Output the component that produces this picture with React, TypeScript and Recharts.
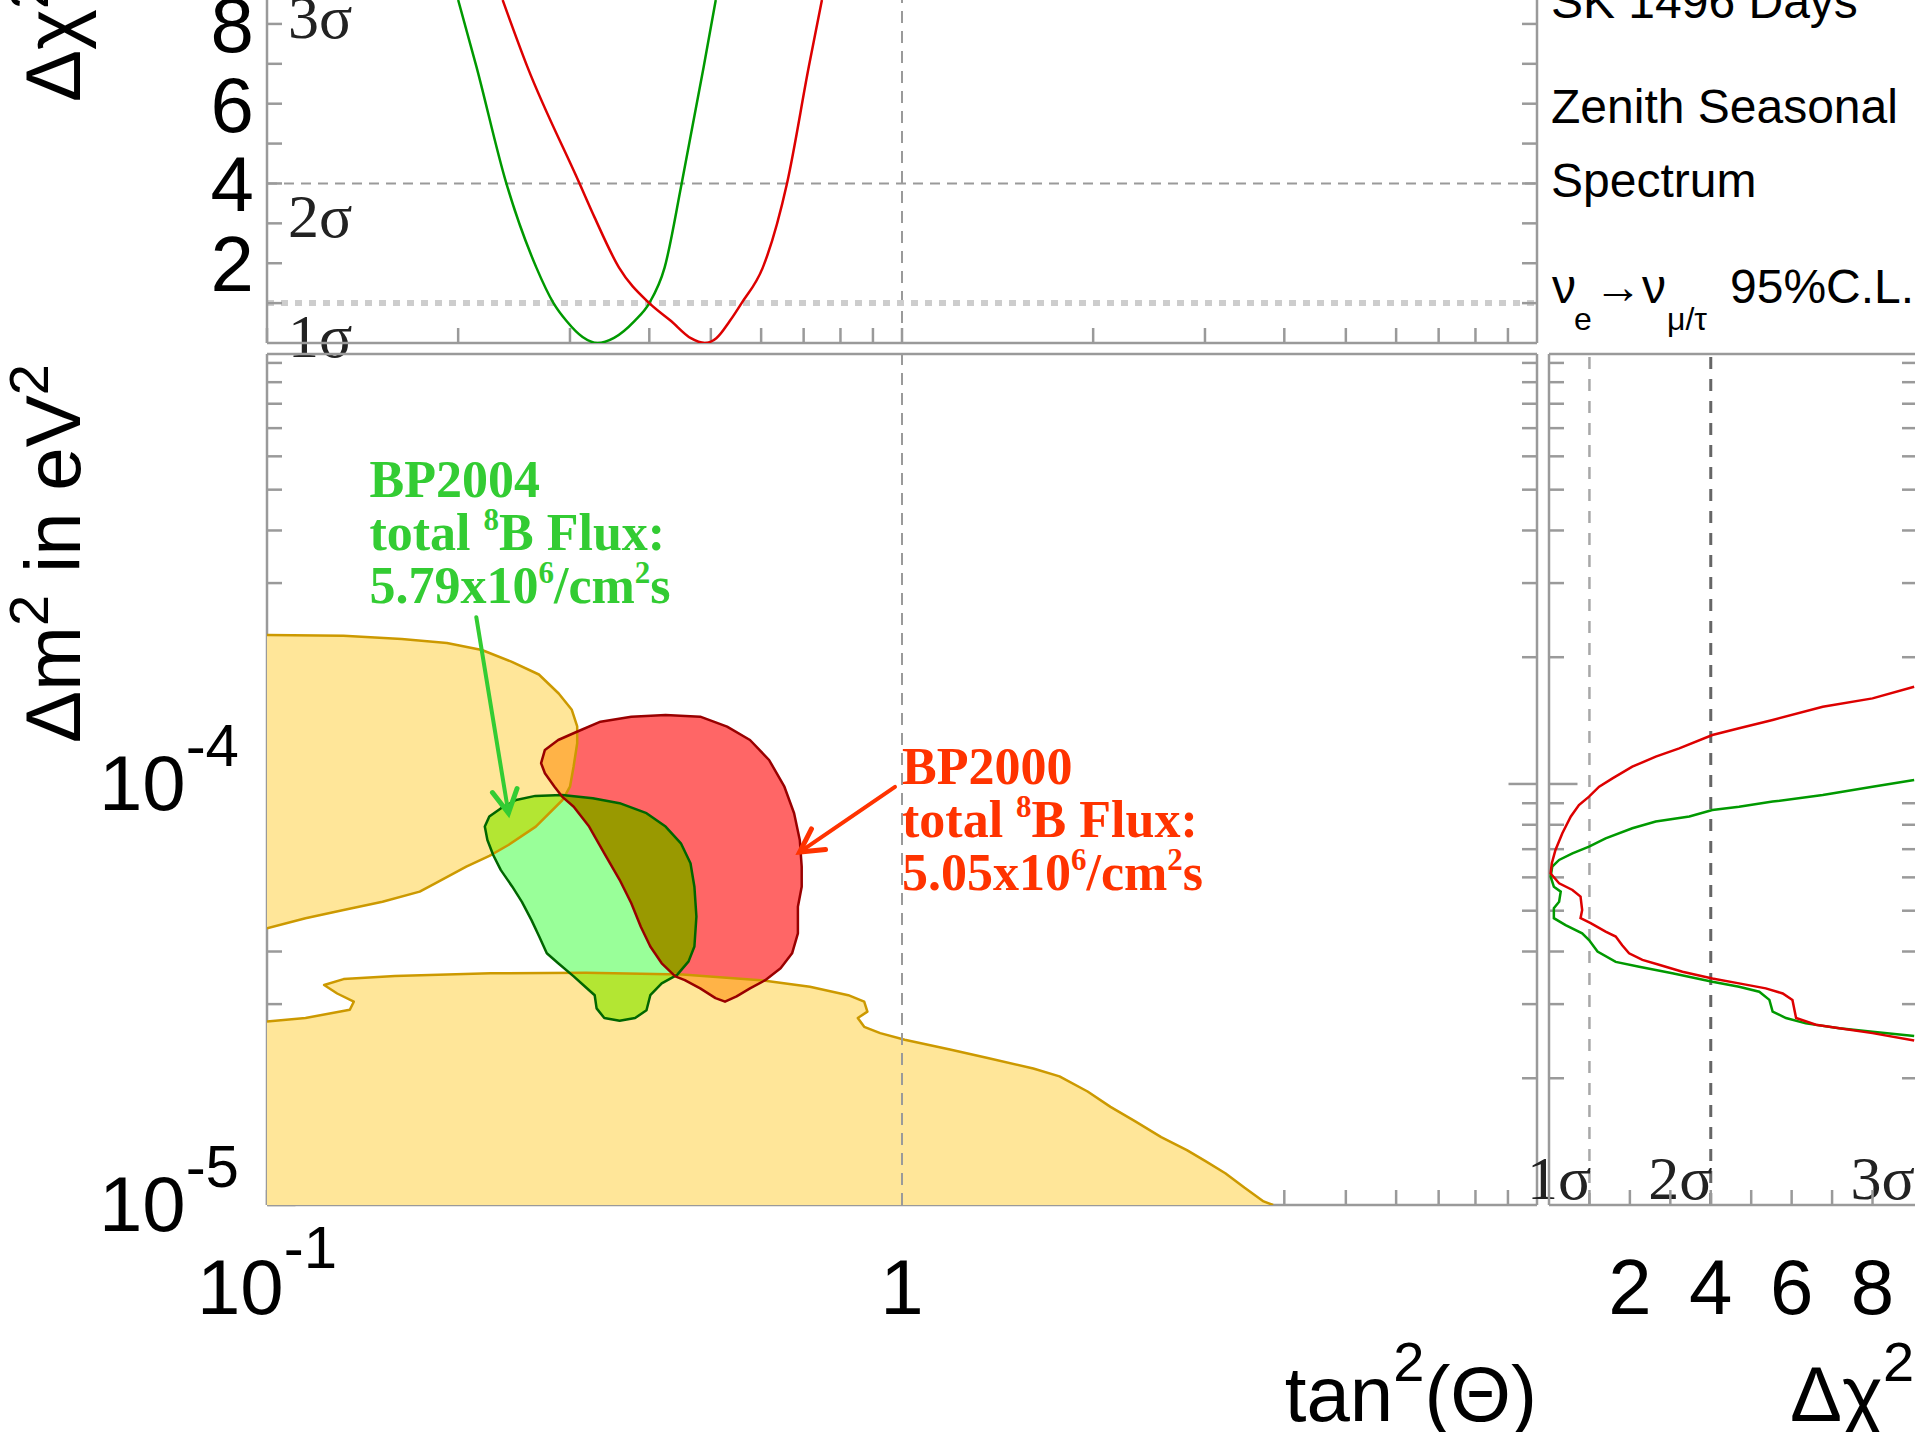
import React from 'react';
import { ComposedChart, Scatter, XAxis, YAxis, ReferenceLine } from 'recharts';

// ---------- values ----------
const tanTicks = [0.1, 0.2, 0.3, 0.4, 0.5, 0.6, 0.7, 0.8, 0.9, 1, 2, 3, 4, 5, 6, 7, 8, 9];
const tanLabelTicks = [0.1, 1];
const dm2Ticks = [2e-5, 3e-5, 4e-5, 5e-5, 6e-5, 7e-5, 8e-5, 9e-5, 2e-4, 3e-4, 4e-4, 5e-4, 6e-4, 7e-4, 8e-4, 9e-4, 1e-3];
const dm2MajorTicks = [1e-5, 1e-4];
const chiTicks = [1, 2, 3, 4, 5, 6, 7, 8];
const chiLabelValues = [2, 4, 6, 8];

// top panel: delta chi^2 vs tan^2(theta)
const bp2004Chi2 = [
  { x: 0.2, y: 8.6 }, { x: 0.2137, y: 6.93 }, { x: 0.2382, y: 4.0 }, { x: 0.2656, y: 1.89 },
  { x: 0.2826, y: 1.0 }, { x: 0.2963, y: 0.55 }, { x: 0.314, y: 0.15 }, { x: 0.3316, y: 0.0 },
  { x: 0.352, y: 0.13 }, { x: 0.379, y: 0.55 }, { x: 0.4, y: 1.0 }, { x: 0.4228, y: 1.89 },
  { x: 0.4498, y: 4.0 }, { x: 0.4873, y: 6.93 }, { x: 0.509, y: 8.6 },
];
const bp2000Chi2 = [
  { x: 0.235, y: 8.6 }, { x: 0.257, y: 6.93 }, { x: 0.3106, y: 4.0 }, { x: 0.328, y: 3.15 },
  { x: 0.3584, y: 1.89 }, { x: 0.4, y: 1.0 }, { x: 0.4329, y: 0.55 }, { x: 0.465, y: 0.12 },
  { x: 0.489, y: 0.0 }, { x: 0.51, y: 0.12 }, { x: 0.5355, y: 0.55 }, { x: 0.559, y: 1.0 },
  { x: 0.6036, y: 1.89 }, { x: 0.659, y: 4.0 }, { x: 0.7133, y: 6.93 }, { x: 0.748, y: 8.6 },
];

// main panel: excluded regions (yellow) and allowed regions
const excludedUpper = [
  { x: 0.1, y: 2.26e-4 }, { x: 0.132, y: 2.25e-4 }, { x: 0.163, y: 2.21e-4 }, { x: 0.192, y: 2.16e-4 },
  { x: 0.218, y: 2.08e-4 }, { x: 0.243, y: 1.95e-4 }, { x: 0.268, y: 1.82e-4 }, { x: 0.288, y: 1.64e-4 },
  { x: 0.302, y: 1.5e-4 }, { x: 0.308, y: 1.37e-4 }, { x: 0.308, y: 1.25e-4 }, { x: 0.304, y: 1.1e-4 },
  { x: 0.3, y: 9.85e-5 }, { x: 0.292, y: 9.16e-5 }, { x: 0.265, y: 7.92e-5 }, { x: 0.24, y: 7.16e-5 },
  { x: 0.224, y: 6.75e-5 }, { x: 0.206, y: 6.36e-5 }, { x: 0.184, y: 5.81e-5 }, { x: 0.174, y: 5.55e-5 },
  { x: 0.152, y: 5.25e-5 }, { x: 0.132, y: 5.02e-5 }, { x: 0.115, y: 4.8e-5 }, { x: 0.1, y: 4.54e-5 },
];
const excludedLower = [
  { x: 0.1, y: 2.73e-5 }, { x: 0.115, y: 2.78e-5 }, { x: 0.135, y: 2.91e-5 }, { x: 0.137, y: 3.04e-5 },
  { x: 0.129, y: 3.18e-5 }, { x: 0.123, y: 3.33e-5 }, { x: 0.132, y: 3.44e-5 }, { x: 0.159, y: 3.5e-5 },
  { x: 0.225, y: 3.55e-5 }, { x: 0.318, y: 3.56e-5 }, { x: 0.451, y: 3.53e-5 }, { x: 0.609, y: 3.41e-5 },
  { x: 0.716, y: 3.3e-5 }, { x: 0.823, y: 3.15e-5 }, { x: 0.872, y: 3.04e-5 }, { x: 0.882, y: 2.88e-5 },
  { x: 0.852, y: 2.78e-5 }, { x: 0.872, y: 2.65e-5 }, { x: 0.924, y: 2.56e-5 }, { x: 1.01, y: 2.47e-5 },
  { x: 1.19, y: 2.34e-5 }, { x: 1.37, y: 2.23e-5 }, { x: 1.61, y: 2.11e-5 }, { x: 1.77, y: 2.02e-5 },
  { x: 1.96, y: 1.86e-5 }, { x: 2.13, y: 1.71e-5 }, { x: 2.33, y: 1.58e-5 }, { x: 2.56, y: 1.45e-5 },
  { x: 2.81, y: 1.35e-5 }, { x: 3.01, y: 1.27e-5 }, { x: 3.23, y: 1.19e-5 }, { x: 3.46, y: 1.1e-5 },
  { x: 3.71, y: 1.02e-5 }, { x: 3.84, y: 1e-5 }, { x: 0.1, y: 1e-5 },
];
const bp2004Contour = [
  { x: 0.2334, y: 8.75e-5 }, { x: 0.2468, y: 9.16e-5 }, { x: 0.2646, y: 9.37e-5 }, { x: 0.2916, y: 9.42e-5 },
  { x: 0.3259, y: 9.25e-5 }, { x: 0.3592, y: 9.0e-5 }, { x: 0.396, y: 8.52e-5 }, { x: 0.4244, y: 7.92e-5 },
  { x: 0.4486, y: 7.23e-5 }, { x: 0.4645, y: 6.48e-5 }, { x: 0.4711, y: 5.7e-5 }, { x: 0.4744, y: 4.84e-5 },
  { x: 0.4711, y: 4.11e-5 }, { x: 0.4613, y: 3.79e-5 }, { x: 0.4424, y: 3.52e-5 }, { x: 0.4184, y: 3.36e-5 },
  { x: 0.4014, y: 3.15e-5 }, { x: 0.396, y: 2.9e-5 }, { x: 0.3799, y: 2.78e-5 }, { x: 0.3592, y: 2.74e-5 },
  { x: 0.3398, y: 2.78e-5 }, { x: 0.3304, y: 2.93e-5 }, { x: 0.3281, y: 3.15e-5 }, { x: 0.317, y: 3.3e-5 },
  { x: 0.3041, y: 3.49e-5 }, { x: 0.2875, y: 3.75e-5 }, { x: 0.2758, y: 3.96e-5 }, { x: 0.2683, y: 4.34e-5 },
  { x: 0.2609, y: 4.75e-5 }, { x: 0.252, y: 5.25e-5 }, { x: 0.2434, y: 5.7e-5 }, { x: 0.2334, y: 6.25e-5 },
  { x: 0.2271, y: 6.78e-5 }, { x: 0.2224, y: 7.36e-5 }, { x: 0.2203, y: 7.92e-5 }, { x: 0.2239, y: 8.37e-5 },
];
const bp2000Contour = [
  { x: 0.3083, y: 1.332e-4 }, { x: 0.3351, y: 1.406e-4 }, { x: 0.3747, y: 1.445e-4 }, { x: 0.4244, y: 1.459e-4 },
  { x: 0.481, y: 1.445e-4 }, { x: 0.5303, y: 1.368e-4 }, { x: 0.5763, y: 1.272e-4 }, { x: 0.6176, y: 1.14e-4 },
  { x: 0.6528, y: 9.85e-5 }, { x: 0.6761, y: 8.52e-5 }, { x: 0.6904, y: 7.36e-5 }, { x: 0.6952, y: 6.36e-5 },
  { x: 0.6952, y: 5.7e-5 }, { x: 0.6856, y: 5.11e-5 }, { x: 0.6856, y: 4.42e-5 }, { x: 0.6714, y: 3.96e-5 },
  { x: 0.644, y: 3.65e-5 }, { x: 0.609, y: 3.42e-5 }, { x: 0.5763, y: 3.27e-5 }, { x: 0.5489, y: 3.13e-5 },
  { x: 0.5264, y: 3.04e-5 }, { x: 0.5085, y: 3.1e-5 }, { x: 0.481, y: 3.27e-5 }, { x: 0.455, y: 3.42e-5 },
  { x: 0.4395, y: 3.49e-5 }, { x: 0.4184, y: 3.75e-5 }, { x: 0.4014, y: 4.11e-5 }, { x: 0.3878, y: 4.58e-5 },
  { x: 0.3747, y: 5.21e-5 }, { x: 0.3592, y: 5.92e-5 }, { x: 0.3398, y: 6.84e-5 }, { x: 0.3215, y: 7.92e-5 },
  { x: 0.3041, y: 8.83e-5 }, { x: 0.2916, y: 9.33e-5 }, { x: 0.2836, y: 9.85e-5 }, { x: 0.2739, y: 1.06e-4 },
  { x: 0.2702, y: 1.12e-4 }, { x: 0.2739, y: 1.205e-4 }, { x: 0.2875, y: 1.272e-4 },
];

// annotations (anchored in data space)
const bp2004Note = [{ x: 0.145, y: 4.8e-4, model: 'BP2004', flux: '5.79' }];
const bp2000Note = [{ x: 1.0, y: 1.0e-4, model: 'BP2000', flux: '5.05' }];
const bp2004Arrow = [{ x: 0.2136, y: 2.49e-4 }, { x: 0.24, y: 8.53e-5 }];
const bp2000Arrow = [{ x: 0.975, y: 9.84e-5 }, { x: 0.69, y: 6.89e-5 }];

// right panel: delta chi^2 profile vs delta m^2
const bp2004Profile = [
  { x: 9.03, y: 1.022e-4 }, { x: 8.0, y: 9.85e-5 }, { x: 6.77, y: 9.41e-5 }, { x: 5.53, y: 9.08e-5 },
  { x: 4.7, y: 8.83e-5 }, { x: 4.04, y: 8.67e-5 }, { x: 3.47, y: 8.37e-5 }, { x: 2.64, y: 8.14e-5 },
  { x: 2.06, y: 7.85e-5 }, { x: 1.4, y: 7.43e-5 }, { x: 0.99, y: 7.1e-5 }, { x: 0.58, y: 6.84e-5 },
  { x: 0.25, y: 6.6e-5 }, { x: 0.08, y: 6.36e-5 }, { x: 0.04, y: 6.02e-5 }, { x: 0.12, y: 5.7e-5 },
  { x: 0.29, y: 5.55e-5 }, { x: 0.25, y: 5.25e-5 }, { x: 0.12, y: 5.07e-5 }, { x: 0.12, y: 4.8e-5 },
  { x: 0.41, y: 4.62e-5 }, { x: 0.82, y: 4.42e-5 }, { x: 0.99, y: 4.26e-5 }, { x: 1.2, y: 4.0e-5 },
  { x: 1.65, y: 3.78e-5 }, { x: 2.23, y: 3.68e-5 }, { x: 3.05, y: 3.55e-5 }, { x: 4.04, y: 3.39e-5 },
  { x: 4.7, y: 3.3e-5 }, { x: 5.2, y: 3.21e-5 }, { x: 5.45, y: 3.07e-5 }, { x: 5.53, y: 2.88e-5 },
  { x: 5.86, y: 2.78e-5 }, { x: 6.35, y: 2.7e-5 }, { x: 7.18, y: 2.63e-5 }, { x: 8.0, y: 2.58e-5 },
  { x: 9.03, y: 2.52e-5 },
];
const bp2000Profile = [
  { x: 9.03, y: 1.702e-4 }, { x: 8.0, y: 1.597e-4 }, { x: 6.77, y: 1.526e-4 }, { x: 5.53, y: 1.419e-4 },
  { x: 4.7, y: 1.356e-4 }, { x: 4.04, y: 1.307e-4 }, { x: 3.22, y: 1.215e-4 }, { x: 2.64, y: 1.161e-4 },
  { x: 2.06, y: 1.099e-4 }, { x: 1.57, y: 1.031e-4 }, { x: 1.24, y: 9.85e-5 }, { x: 0.99, y: 9.33e-5 },
  { x: 0.74, y: 8.91e-5 }, { x: 0.54, y: 8.37e-5 }, { x: 0.33, y: 7.64e-5 }, { x: 0.16, y: 6.97e-5 },
  { x: 0.07, y: 6.48e-5 }, { x: 0.04, y: 6.13e-5 }, { x: 0.25, y: 5.81e-5 }, { x: 0.58, y: 5.6e-5 },
  { x: 0.78, y: 5.4e-5 }, { x: 0.82, y: 5.02e-5 }, { x: 0.78, y: 4.8e-5 }, { x: 1.03, y: 4.67e-5 },
  { x: 1.4, y: 4.46e-5 }, { x: 1.65, y: 4.34e-5 }, { x: 1.81, y: 4.14e-5 }, { x: 1.98, y: 3.96e-5 },
  { x: 2.31, y: 3.82e-5 }, { x: 2.72, y: 3.72e-5 }, { x: 3.3, y: 3.58e-5 }, { x: 4.04, y: 3.45e-5 },
  { x: 4.7, y: 3.36e-5 }, { x: 5.36, y: 3.27e-5 }, { x: 5.78, y: 3.18e-5 }, { x: 6.02, y: 3.07e-5 },
  { x: 6.11, y: 2.78e-5 }, { x: 6.6, y: 2.68e-5 }, { x: 7.18, y: 2.63e-5 }, { x: 8.0, y: 2.56e-5 },
  { x: 9.03, y: 2.46e-5 },
];

// ---------- layout & style ----------
const W = 1915;
const H = 1432;
const MAIN = { left: 267, right: 1537, top: 354, bottom: 1205 };
const TOP_H = 400;
const TOP_BOTTOM = 343;
const SIDE = { left: 1549, right: 1917, width: 2000 };
const TAN_DOMAIN = [0.1, 10];
const DM2_DOMAIN = [1e-5, 1.05e-3];
const CHI_TOP_DOMAIN = [0, 8.6];
const CHI_SIDE_DOMAIN = [0, 9.1];
const AXIS = '#9a9a9a';
const SANS = '"Liberation Sans", Arial, Helvetica, sans-serif';
const SERIF = '"Liberation Serif", "Times New Roman", Times, serif';
const YELLOW = '#FFE699';
const YELLOW_EDGE = '#CC9900';
const GREEN = '#99FF99';
const GREEN_EDGE = '#006600';
const RED = '#FF6666';
const RED_EDGE = '#990000';
const GREEN_ON_YELLOW = '#B3E633';
const RED_ON_YELLOW = '#FFB347';
const RED_ON_GREEN = '#999900';
const axisLine = { stroke: AXIS, strokeWidth: 2.5 };
const tickLine = { stroke: AXIS, strokeWidth: 2.5 };

// the tan^2 = 1 guide line, spanning the full delta m^2 range
const unityGuide = DM2_DOMAIN.map((y) => ({ x: 1, y }));

type Pt = { x: number; y: number };
const toPath = (pts: Pt[], close: boolean) =>
  pts.map((p, i) => `${i === 0 ? 'M' : 'L'}${p.x.toFixed(1)},${p.y.toFixed(1)}`).join(' ') + (close ? ' Z' : '');

const noDot = () => <g />;
const noTick = () => <g />;

const regionFill = (fill: string, clipTo?: string, defineClip?: string) => (props: any) => {
  const d = toPath(props.points, true);
  return (
    <g>
      {defineClip && (
        <defs>
          <clipPath id={defineClip}>
            <path d={d} />
          </clipPath>
        </defs>
      )}
      <path d={d} fill={fill} stroke="none" clipPath={clipTo ? `url(#${clipTo})` : undefined} />
    </g>
  );
};

const regionEdge = (stroke: string, closed: boolean, dropLast = false) => (props: any) => {
  const pts = dropLast ? props.points.slice(0, -1) : props.points;
  return <path d={toPath(pts, closed)} fill="none" stroke={stroke} strokeWidth={2.5} strokeLinejoin="round" />;
};

const dashedGuide = (props: any) => (
  <path d={toPath(props.points, false)} fill="none" stroke={AXIS} strokeWidth={2} strokeDasharray="12 8" />
);

const arrowLine = (color: string) => (props: any) => {
  const [a, b] = props.points as Pt[];
  const ang = Math.atan2(b.y - a.y, b.x - a.x);
  const len = 26;
  const spread = 0.5;
  const h1 = { x: b.x - len * Math.cos(ang - spread), y: b.y - len * Math.sin(ang - spread) };
  const h2 = { x: b.x - len * Math.cos(ang + spread), y: b.y - len * Math.sin(ang + spread) };
  return (
    <g stroke={color} strokeWidth={4} fill="none" strokeLinecap="round">
      <line x1={a.x} y1={a.y} x2={b.x} y2={b.y} />
      <polyline points={`${h1.x},${h1.y} ${b.x},${b.y} ${h2.x},${h2.y}`} strokeWidth={5} />
    </g>
  );
};

const fluxNote = (color: string) => (p: any) => {
  const { cx, cy, payload } = p;
  return (
    <text fill={color} fontFamily={SERIF} fontWeight="bold" fontSize={52}>
      <tspan x={cx} y={cy}>{payload.model}</tspan>
      <tspan x={cx} y={cy + 53}>total </tspan>
      <tspan fontSize={31} dy={-20}>8</tspan>
      <tspan dy={20}>B Flux:</tspan>
      <tspan x={cx} y={cy + 106}>{`${payload.flux}x10`}</tspan>
      <tspan fontSize={31} dy={-20}>6</tspan>
      <tspan dy={20}>/cm</tspan>
      <tspan fontSize={31} dy={-20}>2</tspan>
      <tspan dy={20}>s</tspan>
    </text>
  );
};

const ChiLeftTick = (p: any) =>
  chiLabelValues.includes(p.payload.value) ? (
    <text x={MAIN.left - 13} y={p.y + 28} textAnchor="end" fontFamily={SANS} fontSize={78} fill="#000">
      {p.payload.value}
    </text>
  ) : (
    <g />
  );

const ChiBottomTick = (p: any) =>
  chiLabelValues.includes(p.payload.value) ? (
    <text x={p.x} y={MAIN.bottom + 109} textAnchor="middle" fontFamily={SANS} fontSize={78} fill="#000">
      {p.payload.value}
    </text>
  ) : (
    <g />
  );

const TanTick = (p: any) => {
  const v = p.payload.value;
  const y = MAIN.bottom + 109;
  if (!tanLabelTicks.includes(v)) return <g />;
  if (v === 1) {
    return (
      <text x={p.x} y={y} textAnchor="middle" fontFamily={SANS} fontSize={78} fill="#000">1</text>
    );
  }
  return (
    <text x={p.x} y={y} textAnchor="middle" fontFamily={SANS} fontSize={78} fill="#000">
      10<tspan fontSize={60} dy={-46}>{Math.round(Math.log10(v))}</tspan>
    </text>
  );
};

const Dm2Tick = (p: any) => {
  const v = p.payload.value;
  return (
    <text x={MAIN.left - 28} y={p.y + 26} textAnchor="end" fontFamily={SANS} fontSize={78} fill="#000">
      10<tspan fontSize={60} dy={-44}>{Math.round(Math.log10(v))}</tspan>
    </text>
  );
};

const belowLineLabel = (text: string) => (props: any) => {
  const vb = props.viewBox || {};
  return (
    <text x={(vb.x ?? 0) + 21} y={(vb.y ?? 0) + 54} fontFamily={SERIF} fontSize={62} fill="#222">
      {text}
    </text>
  );
};

const leftOfLineLabel = (text: string) => (props: any) => {
  const vb = props.viewBox || {};
  return (
    <text
      x={(vb.x ?? 0) + 2}
      y={(vb.y ?? 0) + (vb.height ?? 0) - 6}
      textAnchor="end"
      fontFamily={SERIF}
      fontSize={62}
      fill="#222"
    >
      {text}
    </text>
  );
};

const layer: React.CSSProperties = { position: 'absolute', left: 0, top: 0 };

// mirrored axes sit inside the plot so their ticks point inwards like the original;
// a near-zero width keeps stacked axes on the same edge
const XA = { type: 'number' as const, interval: 0, mirror: true, height: 0.5, allowDataOverflow: true };
const YA = { type: 'number' as const, interval: 0, mirror: true, width: 0.5, allowDataOverflow: true };

function TopPanel() {
  return (
    <div style={layer}>
      <ComposedChart
        width={W}
        height={TOP_H}
        margin={{ top: 0, right: W - MAIN.right, bottom: TOP_H - TOP_BOTTOM, left: MAIN.left }}
      >
        <ReferenceLine xAxisId="x" yAxisId="y" x={1} stroke={AXIS} strokeWidth={2} strokeDasharray="12 8" />
        <ReferenceLine xAxisId="x" yAxisId="y" y={4} stroke={AXIS} strokeWidth={2} strokeDasharray="10 7"
          label={belowLineLabel('2σ')} />
        <ReferenceLine xAxisId="x" yAxisId="y" y={1} stroke="#cdcdcd" strokeWidth={6} strokeDasharray="7 7"
          label={belowLineLabel('1σ')} />
        <ReferenceLine xAxisId="x" yAxisId="y" y={9} ifOverflow="visible" stroke="none"
          label={belowLineLabel('3σ')} />
        <Scatter xAxisId="x" yAxisId="y" data={bp2004Chi2} shape={noDot} lineJointType="monotoneX"
          line={{ stroke: '#009900', strokeWidth: 2.5 }} isAnimationActive={false} />
        <Scatter xAxisId="x" yAxisId="y" data={bp2000Chi2} shape={noDot} lineJointType="monotoneX"
          line={{ stroke: '#DD0000', strokeWidth: 2.5 }} isAnimationActive={false} />
        <XAxis {...XA} xAxisId="x" dataKey="x" scale="log" domain={TAN_DOMAIN} ticks={tanTicks}
          orientation="bottom" tick={noTick} tickSize={15} axisLine={axisLine} tickLine={tickLine} />
        <YAxis {...YA} yAxisId="y" dataKey="y" domain={CHI_TOP_DOMAIN} ticks={chiTicks}
          orientation="left" tickSize={15} tickMargin={0} tick={ChiLeftTick} axisLine={axisLine} tickLine={tickLine} />
        <YAxis {...YA} yAxisId="yr" domain={CHI_TOP_DOMAIN} ticks={chiTicks} orientation="right"
          tickSize={15} tick={noTick} axisLine={axisLine} tickLine={tickLine} />
      </ComposedChart>
    </div>
  );
}

function MainPanel() {
  const common = { xAxisId: 'x', yAxisId: 'y', shape: noDot, isAnimationActive: false };
  return (
    <div style={layer}>
      <ComposedChart
        width={W}
        height={H}
        margin={{ top: MAIN.top, right: W - MAIN.right, bottom: H - MAIN.bottom, left: MAIN.left }}
      >
        {/* fills */}
        <Scatter {...common} data={excludedUpper} line={regionFill(YELLOW, undefined, 'clip-yu')} />
        <Scatter {...common} data={excludedLower} line={regionFill(YELLOW, undefined, 'clip-yl')} />
        <Scatter {...common} data={bp2004Contour} line={regionFill(GREEN, undefined, 'clip-g')} />
        <Scatter {...common} data={bp2000Contour} line={regionFill(RED)} />
        {/* overlaps */}
        <Scatter {...common} data={bp2004Contour} line={regionFill(GREEN_ON_YELLOW, 'clip-yu')} />
        <Scatter {...common} data={bp2004Contour} line={regionFill(GREEN_ON_YELLOW, 'clip-yl')} />
        <Scatter {...common} data={bp2000Contour} line={regionFill(RED_ON_YELLOW, 'clip-yu')} />
        <Scatter {...common} data={bp2000Contour} line={regionFill(RED_ON_YELLOW, 'clip-yl')} />
        <Scatter {...common} data={bp2000Contour} line={regionFill(RED_ON_GREEN, 'clip-g')} />
        {/* outlines */}
        <Scatter {...common} data={excludedUpper} line={regionEdge(YELLOW_EDGE, false)} />
        <Scatter {...common} data={excludedLower} line={regionEdge(YELLOW_EDGE, false, true)} />
        <Scatter {...common} data={bp2004Contour} line={regionEdge(GREEN_EDGE, true)} />
        <Scatter {...common} data={bp2000Contour} line={regionEdge(RED_EDGE, true)} />
        <Scatter {...common} data={unityGuide} line={dashedGuide} />
        {/* annotations */}
        <Scatter {...common} data={bp2004Arrow} line={arrowLine('#33CC33')} />
        <Scatter {...common} data={bp2000Arrow} line={arrowLine('#FF3300')} />
        <Scatter {...common} data={bp2004Note} shape={fluxNote('#33CC33')} />
        <Scatter {...common} data={bp2000Note} shape={fluxNote('#FF3300')} />

        <XAxis {...XA} xAxisId="x" dataKey="x" scale="log" domain={TAN_DOMAIN} ticks={tanTicks}
          orientation="bottom" tick={TanTick} tickSize={15} axisLine={axisLine} tickLine={tickLine} />
        <XAxis {...XA} xAxisId="xt" scale="log" domain={TAN_DOMAIN} ticks={tanTicks}
          orientation="top" tick={noTick} tickSize={15} axisLine={axisLine} tickLine={tickLine} />
        <YAxis {...YA} yAxisId="y" dataKey="y" scale="log" domain={DM2_DOMAIN} ticks={dm2Ticks}
          orientation="left" tick={noTick} tickSize={15} axisLine={axisLine} tickLine={tickLine} />
        <YAxis {...YA} yAxisId="ym" scale="log" domain={DM2_DOMAIN} ticks={dm2MajorTicks}
          orientation="left" tick={Dm2Tick} tickSize={28} axisLine={false} tickLine={tickLine} />
        <YAxis {...YA} yAxisId="yr" scale="log" domain={DM2_DOMAIN} ticks={dm2Ticks}
          orientation="right" tick={noTick} tickSize={15} axisLine={axisLine} tickLine={tickLine} />
        <YAxis {...YA} yAxisId="yrm" scale="log" domain={DM2_DOMAIN} ticks={[1e-4]}
          orientation="right" tick={noTick} tickSize={28} axisLine={false} tickLine={tickLine} />
      </ComposedChart>
    </div>
  );
}

function SidePanel() {
  return (
    <div style={layer}>
      <ComposedChart
        width={SIDE.width}
        height={H}
        margin={{ top: MAIN.top, right: SIDE.width - SIDE.right, bottom: H - MAIN.bottom, left: SIDE.left }}
      >
        <ReferenceLine xAxisId="x" yAxisId="y" x={1} stroke="#a8a8a8" strokeWidth={2.5} strokeDasharray="12 10"
          label={leftOfLineLabel('1σ')} />
        <ReferenceLine xAxisId="x" yAxisId="y" x={4} stroke="#666" strokeWidth={3} strokeDasharray="12 10"
          label={leftOfLineLabel('2σ')} />
        <ReferenceLine xAxisId="x" yAxisId="y" x={9} stroke="none" label={leftOfLineLabel('3σ')} />
        <Scatter xAxisId="x" yAxisId="y" data={bp2004Profile} shape={noDot}
          line={{ stroke: '#009900', strokeWidth: 2.5 }} isAnimationActive={false} />
        <Scatter xAxisId="x" yAxisId="y" data={bp2000Profile} shape={noDot}
          line={{ stroke: '#DD0000', strokeWidth: 2.5 }} isAnimationActive={false} />
        <XAxis {...XA} xAxisId="x" dataKey="x" domain={CHI_SIDE_DOMAIN} ticks={chiTicks}
          orientation="bottom" tick={ChiBottomTick} tickSize={15} axisLine={axisLine} tickLine={tickLine} />
        <XAxis {...XA} xAxisId="xt" domain={CHI_SIDE_DOMAIN} ticks={chiTicks}
          orientation="top" tick={noTick} tickSize={15} axisLine={axisLine} tickLine={tickLine} />
        <YAxis {...YA} yAxisId="y" dataKey="y" scale="log" domain={DM2_DOMAIN} ticks={dm2Ticks}
          orientation="left" tick={noTick} tickSize={15} axisLine={axisLine} tickLine={tickLine} />
        <YAxis {...YA} yAxisId="ym" scale="log" domain={DM2_DOMAIN} ticks={[1e-4]}
          orientation="left" tick={noTick} tickSize={28} axisLine={false} tickLine={tickLine} />
        <YAxis {...YA} yAxisId="yr" scale="log" domain={DM2_DOMAIN} ticks={dm2Ticks}
          orientation="right" tick={noTick} tickSize={15} axisLine={axisLine} tickLine={tickLine} />
      </ComposedChart>
    </div>
  );
}

function Titles() {
  return (
    <svg width={W} height={H} style={{ ...layer, pointerEvents: 'none' }}>
      <g fontFamily={SANS} fill="#000">
        <text transform="translate(80,102) rotate(-90)" fontSize={78}>
          Δχ<tspan fontSize={56} dy={-32}>2</tspan>
        </text>
        <text transform="translate(80,743) rotate(-90)" fontSize={78}>
          Δm<tspan fontSize={56} dy={-32}>2</tspan>
          <tspan dy={32}> in eV</tspan>
          <tspan fontSize={56} dy={-32}>2</tspan>
        </text>
        <text x={MAIN.right} y={1421} textAnchor="end" fontSize={78}>
          tan<tspan fontSize={56} dy={-40}>2</tspan>
          <tspan dy={40}>(Θ)</tspan>
        </text>
        <text x={1790} y={1421} fontSize={78}>
          Δχ<tspan fontSize={56} dy={-40}>2</tspan>
        </text>
        <text x={1551} y={18} fontSize={48}>SK 1496 Days</text>
        <text x={1551} y={123} fontSize={48}>Zenith Seasonal</text>
        <text x={1551} y={197} fontSize={48}>Spectrum</text>
        <text x={1552} y={303} fontSize={48}>ν</text>
        <text x={1574} y={330} fontSize={32}>e</text>
        <text x={1594} y={303} fontSize={48}>→</text>
        <text x={1642} y={303} fontSize={48}>ν</text>
        <text x={1667} y={330} fontSize={32}>μ/τ</text>
        <text x={1730} y={303} fontSize={48}>95%C.L.</text>
      </g>
    </svg>
  );
}

export default function App() {
  return (
    <div style={{ position: 'absolute', left: 0, top: 0, width: W, height: H, overflow: 'hidden', background: '#fff' }}>
      <TopPanel />
      <MainPanel />
      <SidePanel />
      <Titles />
    </div>
  );
}
